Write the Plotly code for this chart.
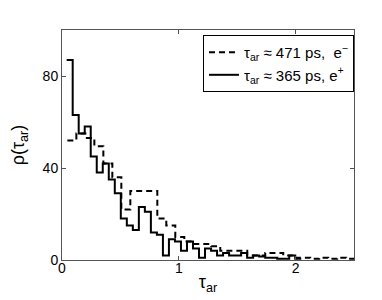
import numpy as np
import plotly.graph_objects as go

# Solid series (tau_ar ~ 365 ps, e+): stairs over bin centres
solid_start = 0.04
solid_width = 0.0515
solid_counts = [87, 63, 55, 58, 45, 38, 42, 35, 29, 18, 15, 13, 23, 21, 12, 11, 2,
                9, 8, 4, 8, 5, 1, 5, 4, 2, 3, 2, 2, 3, 1, 2, 1.5, 1, 1, 0.5, 0.5, 2, 0.5, 0.5]

# Dashed series (tau_ar ~ 471 ps, e-)
dash_start = 0.046
dash_width = 0.077
dash_counts = [52, 55, 53, 49.5, 42, 36, 22, 30, 30, 30, 18, 15, 10, 8, 7, 7, 6,
               4, 4, 4, 2, 2, 3, 3, 2, 1, 1, 0.5, 1, 0.5, 1, 0.5, 0.5]

solid_label = "τ<sub>ar</sub> ≈ 365 ps, e<sup>+</sup>"
dash_label = "τ<sub>ar</sub> ≈ 471 ps,\u00a0 e<sup>−</sup>"

x_ticks = [0, 1, 2]
y_ticks = [0, 40, 80]

solid_x = solid_start + solid_width * np.arange(len(solid_counts))
dash_x = dash_start + dash_width * np.arange(len(dash_counts))

FONT = "Liberation Sans, Arial, Helvetica, sans-serif"
AX = "#555555"

fig = go.Figure()
fig.add_trace(go.Scatter(x=dash_x, y=dash_counts, mode="lines", line_shape="hv",
                         line=dict(color="black", width=2, dash="6px,4px"),
                         name=dash_label))
fig.add_trace(go.Scatter(x=solid_x, y=solid_counts, mode="lines", line_shape="hv",
                         line=dict(color="black", width=2),
                         name=solid_label))

axis_common = dict(showline=True, linecolor=AX, linewidth=1, mirror="ticks",
                   ticks="inside", ticklen=4, tickcolor=AX, showgrid=False,
                   zeroline=False, automargin=False,
                   tickfont=dict(family=FONT, size=14, color="black"))

fig.update_layout(
    width=382, height=300,
    margin=dict(l=54, r=36, t=22, b=48),
    paper_bgcolor="white", plot_bgcolor="white",
    font=dict(family=FONT, size=14, color="black"),
    xaxis=dict(range=[0, 2.5], tickvals=x_ticks, ticktext=[str(v) for v in x_ticks],
               ticklabelstandoff=-5,
               title=dict(text="τ<sub>ar</sub>", font=dict(size=18), standoff=0),
               **axis_common),
    yaxis=dict(range=[0, 100], tickvals=y_ticks, ticktext=[str(v) for v in y_ticks],
               title=dict(text="ρ(τ<sub>ar</sub>)", font=dict(size=18), standoff=16),
               **axis_common),
    legend=dict(x=1, y=0.978, xanchor="right", yanchor="top",
                bgcolor="white", bordercolor="black", borderwidth=1,
                font=dict(family=FONT, size=15), itemwidth=30,
                tracegroupgap=0),
    showlegend=True,
)

fig.write_html("out.html")
